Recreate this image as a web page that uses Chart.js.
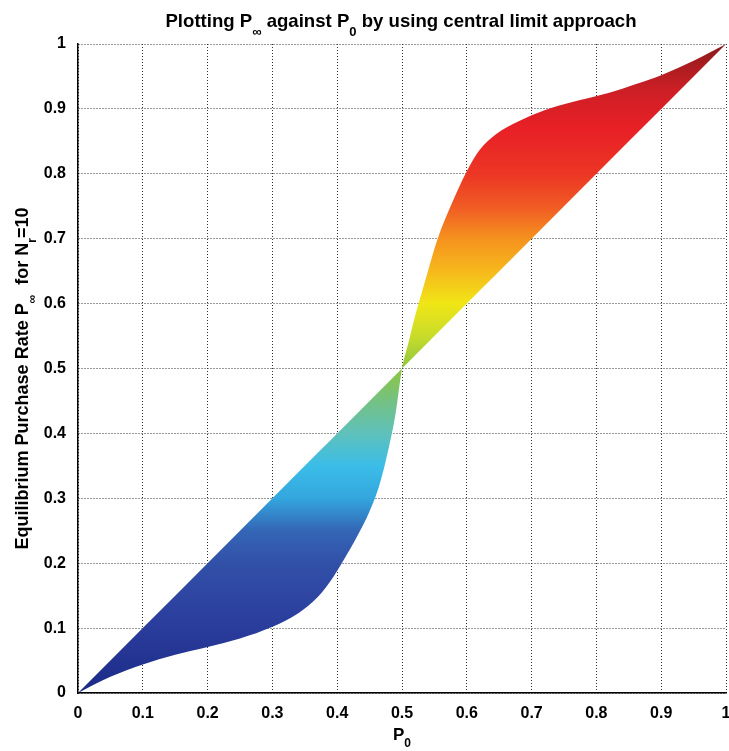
<!doctype html>
<html lang="en">
<head>
  <meta charset="utf-8">
  <title>P_inf against P_0</title>
  <style>
    html, body { margin: 0; padding: 0; background: #fff; }
    #wrap { width: 729px; height: 751px; }
  </style>
</head>
<body>
  <script src="https://cdn.jsdelivr.net/npm/chart.js"></script>

  <div id="wrap">
    <canvas id="pChart"></canvas>
  </div>

  <script>
    // values
    const pZero = [0, 0.05, 0.1, 0.15, 0.2, 0.25, 0.3, 0.34, 0.37, 0.39, 0.41, 0.43, 0.45, 0.465, 0.48, 0.49,
      0.5, 0.51, 0.52, 0.53, 0.54, 0.555, 0.575, 0.6, 0.62, 0.645, 0.68, 0.72, 0.76, 0.82, 0.86, 0.9, 0.95, 1];
    const pInfCurve = [0, 0.025, 0.044, 0.059, 0.071, 0.084, 0.102, 0.123, 0.148, 0.173, 0.205, 0.24, 0.28, 0.32, 0.38, 0.43,
      0.5, 0.54, 0.58, 0.615, 0.65, 0.70, 0.75, 0.804, 0.837, 0.861, 0.881, 0.898, 0.91, 0.925, 0.938, 0.952, 0.974, 1];
    // the straight line P_inf = P_0
    const pInfDiag = [0, 0.05, 0.1, 0.15, 0.2, 0.25, 0.3, 0.34, 0.37, 0.39, 0.41, 0.43, 0.45, 0.465, 0.48, 0.49,
      0.5, 0.51, 0.52, 0.53, 0.54, 0.555, 0.575, 0.6, 0.62, 0.645, 0.68, 0.72, 0.76, 0.82, 0.86, 0.9, 0.95, 1];
    const tickStep = 0.1;

    // jet-like colour map along the y axis
    const jetStops = [
      [0, '#1b2a86'], [0.1, '#2a3c9c'], [0.2, '#3250a8'], [0.25, '#3466b6'], [0.3, '#33a6de'],
      [0.35, '#3bbde8'], [0.4, '#5ec1bb'], [0.45, '#74c183'], [0.5, '#8ec640'], [0.55, '#c8dc2a'],
      [0.6, '#f0e616'], [0.65, '#f6b81c'], [0.7, '#f5921e'], [0.75, '#f05a24'], [0.8, '#ec3624'],
      [0.87, '#e82026'], [0.93, '#cc1f25'], [1, '#8a1a1a']
    ];

    function jetFill(context) {
      const chart = context.chart;
      const area = chart.chartArea;
      if (!area) return '#8ec640';
      const g = chart.ctx.createLinearGradient(0, area.bottom, 0, area.top);
      jetStops.forEach(s => g.addColorStop(s[0], s[1]));
      return g;
    }

    const FONT = "'Liberation Sans', Arial, sans-serif";

    // draws text pieces, some of them as subscripts, centred on x
    function drawRich(ctx, parts, x, y, size, subSize, subDrop) {
      let w = 0;
      parts.forEach(p => {
        ctx.font = 'bold ' + (p.sub ? subSize : size) + 'px ' + FONT;
        p.w = ctx.measureText(p.t).width;
        w += p.w;
      });
      let cx = x - w / 2;
      parts.forEach(p => {
        ctx.font = 'bold ' + (p.sub ? subSize : size) + 'px ' + FONT;
        ctx.fillText(p.t, cx, p.sub ? y + subDrop : y);
        cx += p.w;
      });
    }

    const labelPlugin = {
      id: 'labels',
      afterDraw(chart) {
        const ctx = chart.ctx;
        const area = chart.chartArea;
        const mid = (area.left + area.right) / 2;
        ctx.save();
        ctx.fillStyle = '#000';
        ctx.textBaseline = 'alphabetic';
        ctx.textAlign = 'left';
        drawRich(ctx, [
          { t: 'Plotting P' }, { t: '\u221e', sub: true }, { t: ' against P' }, { t: '0', sub: true },
          { t: ' by using central limit approach' }
        ], mid - 1, 27, 18.6, 13, 9);
        drawRich(ctx, [{ t: 'P' }, { t: '0', sub: true }], mid, 740, 17, 12, 7);
        ctx.translate(28, (area.top + area.bottom) / 2 + 10);
        ctx.rotate(-Math.PI / 2);
        drawRich(ctx, [
          { t: 'Equilibrium Purchase Rate P' }, { t: '\u221e', sub: true }, { t: '  for N' }, { t: 'r', sub: true },
          { t: '=10' }
        ], 0, 0, 18, 12, 8);
        ctx.restore();
      }
    };

    const tickFont = { family: FONT, weight: 'bold', size: 16 };
    const tickText = v => (v === 0 ? '0' : v === 1 ? '1' : v.toFixed(1));

    new Chart(document.getElementById('pChart'), {
      type: 'line',
      data: {
        datasets: [{
          label: 'diagonal',
          data: pZero.map((x, i) => ({ x: x, y: pInfDiag[i] })),
          borderWidth: 0,
          pointRadius: 0,
          fill: false
        }, {
          label: 'central limit',
          data: pZero.map((x, i) => ({ x: x, y: pInfCurve[i] })),
          borderWidth: 0,
          pointRadius: 0,
          cubicInterpolationMode: 'monotone',
          backgroundColor: jetFill,
          fill: 0
        }]
      },
      options: {
        responsive: true,
        maintainAspectRatio: false,
        animation: false,
        layout: { padding: { top: 44, right: 3, left: 0, bottom: 0 } },
        plugins: {
          legend: { display: false },
          tooltip: { enabled: false }
        },
        scales: {
          x: {
            type: 'linear',
            min: 0,
            max: 1,
            afterFit: s => { s.height = 58; s.paddingRight = 0; s.paddingLeft = 0; },
            ticks: { stepSize: tickStep, color: '#000', font: tickFont, padding: 11, maxRotation: 0, callback: tickText },
            grid: { color: '#333', drawTicks: false },
            border: { display: true, color: '#000', width: 1.5, dash: [1, 2] }
          },
          y: {
            type: 'linear',
            min: 0,
            max: 1,
            afterFit: s => { s.width = 78; s.paddingTop = 0; s.paddingBottom = 0; },
            ticks: { stepSize: tickStep, color: '#000', font: tickFont, padding: 12, callback: tickText },
            grid: { color: '#333', drawTicks: false },
            border: { display: true, color: '#000', width: 1.5, dash: [1, 2] }
          }
        }
      },
      plugins: [labelPlugin]
    });
  </script>
</body>
</html>
